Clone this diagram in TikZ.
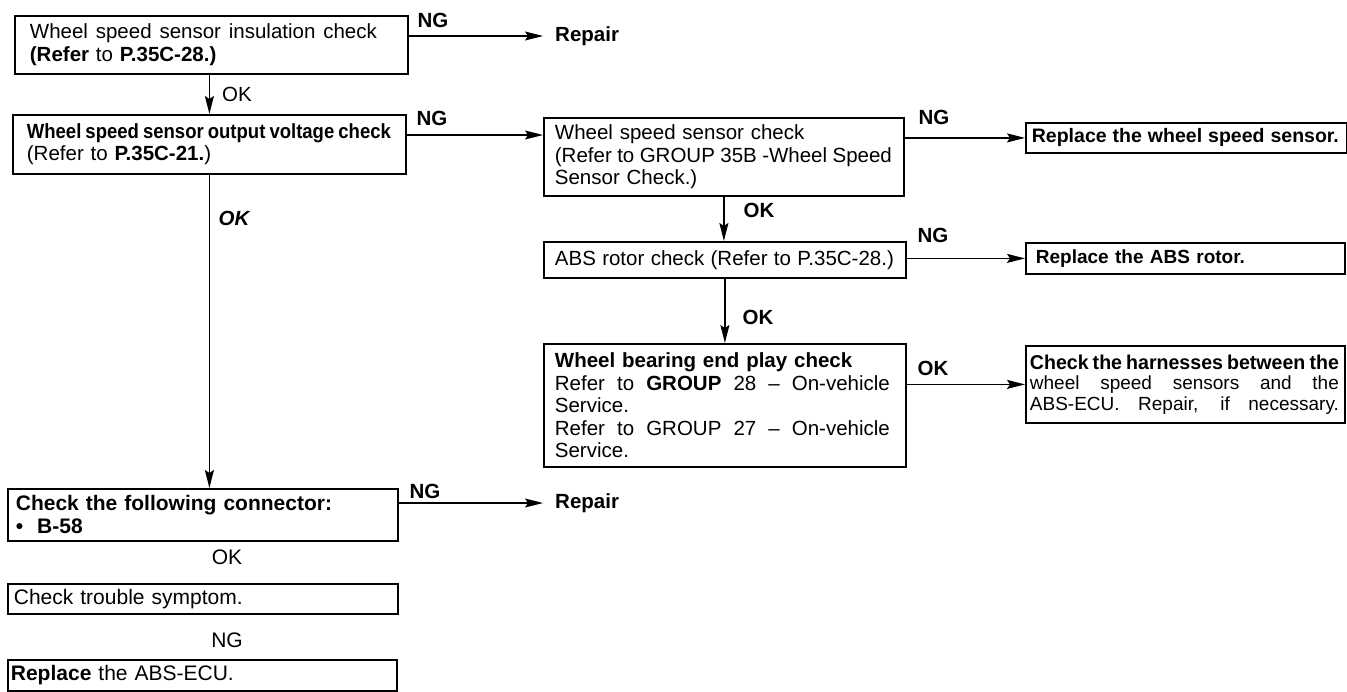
\documentclass[tikz,border=0pt]{standalone}
\usepackage{graphicx}
\usepackage{fontspec}
\setmainfont{Liberation Sans}
\usetikzlibrary{arrows.meta}
\newcommand\fsA{\fontsize{20.5}{22.5}\selectfont}
\newcommand\fsC{\fontsize{21}{23}\selectfont}
\newcommand\fsR{\fontsize{19}{20.5}\selectfont}
\newcommand\jl[2]{\leavevmode\hbox to #1pt{\spaceskip=.25em plus 1fil minus .1em\relax #2}}
\newcommand\cond[2]{\leavevmode\resizebox{#1pt}{\height}{\spaceskip=.22em\relax #2}}
\tikzset{
  box/.style={draw, line width=1.8pt, anchor=north west, align=left, inner ysep=0pt, font=\fsA},
  arr/.style={line width=1.3pt, -{Stealth[length=18pt,width=9pt,inset=3pt]}},
  ng/.style={font=\fsA\bfseries, inner sep=0pt},
  ok/.style={font=\fsA, inner sep=0pt},
  rep/.style={font=\fsA\bfseries, inner ysep=0pt, inner xsep=12pt, anchor=west},
}
\begin{document}
\begin{tikzpicture}[x=1pt,y=-1pt]
\useasboundingbox (0,0) rectangle (1347,691);

% left column
\node[box, text width=363pt, inner xsep=15pt, minimum height=58pt] (b1) at (14,15)
  {\jl{347}{Wheel speed sensor insulation check}\\\textbf{(Refer} to \textbf{P.35C-28.)}};
\node[box, text width=365pt, inner xsep=14pt, minimum height=59pt] (b2) at (12,114)
  {\cond{364}{\bfseries Wheel speed sensor output voltage check}\\(Refer to \textbf{P.35C-21.})};

% middle column
\node[box, text width=338pt, inner xsep=11pt, minimum height=78pt] (b3) at (543,117)
  {Wheel speed sensor check\\\jl{337}{(Refer to GROUP 35B -Wheel Speed}\\Sensor Check.)};
\node[box, text width=340pt, inner xsep=11pt, minimum height=36pt] (b4) at (543,241)
  {\jl{339}{ABS rotor check (Refer to P.35C-28.)}};
\node[box, text width=340pt, inner xsep=11pt, minimum height=123pt] (b5) at (543,343)
  {\textbf{Wheel bearing end play check}\\
   \jl{335}{Refer to \textbf{GROUP} 28 – On-vehicle}\\
   Service.\\
   \jl{335}{Refer to GROUP 27 – On-vehicle}\\
   Service.};

% right column
\node[box, text width=309pt, inner xsep=6pt, minimum height=30pt, font=\fontsize{19.5}{22.5}\selectfont\bfseries] (r1) at (1025,122)
  {\jl{307}{Replace the wheel speed sensor.}};
\node[box, text width=299pt, inner xsep=10pt, minimum height=31pt, font=\fsR\bfseries] (r2) at (1025,242)
  {Replace the ABS rotor.};
\node[box, text width=311pt, inner xsep=4pt, minimum height=77pt, font=\fsR] (r3) at (1025,345)
  {\cond{309}{\fontsize{20}{20.5}\selectfont\bfseries Check the harnesses between the}\\
   \jl{309}{wheel speed sensors and the}\\
   \jl{309}{ABS-ECU. Repair, if necessary.}};

% bottom column
\node[box, text width=374pt, inner xsep=8pt, minimum height=52pt, font=\fsC\bfseries] (c1) at (7,488)
  {Check the following connector:\\•\hspace{14pt}B-58};
\node[box, text width=378pt, inner xsep=6pt, minimum height=30pt, font=\fsC] (c2) at (7,583)
  {Check trouble symptom.};
\node[box, text width=383pt, inner xsep=3pt, minimum height=31pt, font=\fsC] (c3) at (7,659)
  {\textbf{Replace} the ABS-ECU.};

% end texts
\node[rep] (rep1) at (543,36) {Repair};
\node[rep] (rep2) at (543,503) {Repair};
\coordinate (j23) at (475,135);

% connectors
\draw[arr] (b1.east |- rep1.west) -- (rep1.west);
\draw[arr] (b2.north |- b1.south) -- (b2.north);
\draw[arr] (b2.east |- j23) -- (b3.west |- j23);
\draw[arr] (b2.south) -- (b2.south |- c1.north);
\draw[arr] (b3.east |- r1.west) -- (r1.west);
\draw[arr] (b3.south) -- (b3.south |- b4.north);
\draw[arr] (b4.east |- r2.west) -- (r2.west);
\draw[arr] (b4.south) -- (b4.south |- b5.north);
\draw[arr] (b5.east |- r3.west) -- (r3.west);
\draw[arr] (c1.east |- rep2.west) -- (rep2.west);

% labels
\node[ng] (ng1) at (433,20) {NG};
\node[ok] (ok1) at (237,94) {OK};
\node[ng] (ng2) at (432,118) {NG};
\node[ok, font=\fsA\bfseries\itshape] (ok2) at (234,218) {OK};
\node[ng] (ng3) at (934,117) {NG};
\node[ng] (ok3) at (759,210) {OK};
\node[ng] (ng4) at (933,235) {NG};
\node[ng] (ok4) at (758,317) {OK};
\node[ng] (ok5) at (933,368) {OK};
\node[ng] (ng5) at (425,491) {NG};
\node[ok, font=\fsC] (ok6) at (227,557) {OK};
\node[ok, font=\fsC] (ng6) at (227,640) {NG};
\end{tikzpicture}
\end{document}
